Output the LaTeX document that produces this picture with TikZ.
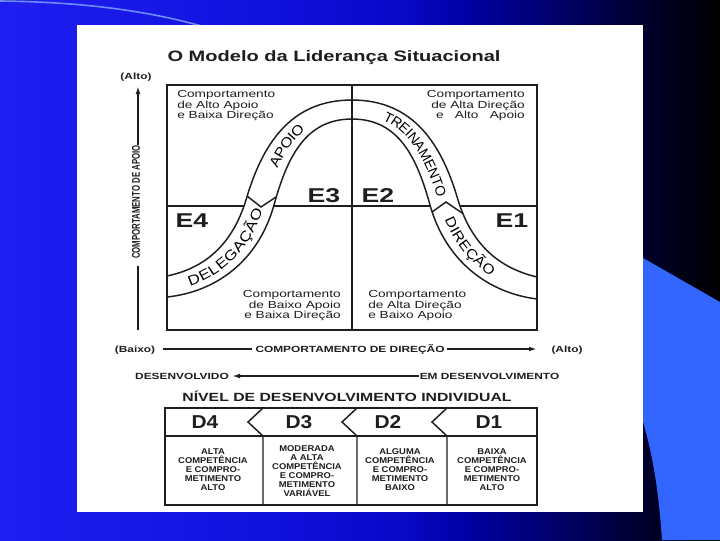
\documentclass[tikz,border=0pt]{standalone}
\usepackage{fontspec}
\setmainfont{Liberation Sans}
\newfontfamily\wideR[FakeStretch=1.33]{Liberation Sans}
\newfontfamily\midR[FakeStretch=1.12]{Liberation Sans}
\newfontfamily\bandW[FakeStretch=1.2]{Liberation Sans}
\newfontfamily\narR[FakeStretch=0.7]{Liberation Sans}
\newcommand\bandN{\normalfont\fontsize{10.5}{12}\selectfont}
\newcommand\bandM{\midR\fontsize{10.5}{12}\selectfont}
\newcommand\bandL{\bandW\fontsize{10.5}{12}\selectfont}
\usetikzlibrary{decorations.text,arrows.meta}
\pgfdeclarehorizontalshading{bgshade}{100bp}{rgb(0bp)=(0.12,0.12,0.95); rgb(25bp)=(0.12,0.12,0.95); rgb(45bp)=(0.06,0.06,0.86); rgb(53bp)=(0.03,0.03,0.78); rgb(58bp)=(0,0,0.62); rgb(64bp)=(0,0,0.40); rgb(69bp)=(0,0,0.2); rgb(75bp)=(0,0,0); rgb(100bp)=(0,0,0)}
\definecolor{ink}{RGB}{30,30,30}
\definecolor{lightb}{RGB}{51,102,255}
\definecolor{swooshc}{RGB}{110,140,255}
\begin{document}
\begin{tikzpicture}[x=0.75pt,y=-0.75pt,
 frame/.style={draw=ink,line width=1.3pt},
 rule/.style={draw=ink,line width=1.1pt},
 axisline/.style={draw=ink,line width=1.5pt},
 tipend/.style={-{Latex[length=6pt,width=3.6pt]}},
 qtext/.style={font=\wideR\fontsize{7.7}{8}\selectfont,text=ink,inner sep=0pt},
 ebig/.style={font=\wideR\bfseries\fontsize{15}{15}\selectfont,text=ink,inner sep=0pt,anchor=base},
 dbig/.style={font=\midR\bfseries\fontsize{14}{14}\selectfont,text=ink,inner sep=0pt,anchor=base},
 axlab/.style={font=\wideR\bfseries\fontsize{6.7}{8}\selectfont,text=ink,inner sep=0pt,anchor=base},
 cell/.style={font=\midR\bfseries\fontsize{6.3}{6.75}\selectfont,text=ink,inner sep=0pt,align=center},
 bandtext/.style 2 args={decorate,decoration={text along path,text align={#2},raise=-3.8pt,text={#1}}},
]
\useasboundingbox (0,0) rectangle (720,540);
% background
\shade[shading=bgshade] (0,0) rectangle (720,540);
\draw[swooshc,line width=1.2pt] (0,1) .. controls (80,2) and (150,10) .. (215,30);
\fill[lightb] (630,250.6) -- (720,302) -- (720,540) -- (662,540) .. controls (658,480) and (650,440) .. (636,400) -- cycle;
\fill[white] (77,25) rectangle (643,512);

% title
\node[font=\wideR\bfseries\fontsize{11.3}{13}\selectfont,text=ink,inner sep=0pt,anchor=base] (title) at (334,61) {O Modelo da Liderança Situacional};

% vertical axis
\node[axlab] (altoV) at (136,79) {(Alto)};
\coordinate (vtip) at (138,86);
\coordinate (vtop) at (138,145);
\coordinate (vlowA) at (138,266);
\coordinate (vlowB) at (138,330);
\draw[axisline,tipend] (vtop) -- (vtip);
\draw[axisline] (vlowA) -- (vlowB);
\node[font=\narR\bfseries\fontsize{8.4}{9}\selectfont,text=ink,inner sep=0pt,rotate=90] (vlab) at (136,202) {COMPORTAMENTO DE APOIO};

% main grid
\coordinate (mL) at (167,206);
\coordinate (mR) at (537,206);
\coordinate (mT) at (352,85);
\coordinate (mB) at (352,330);
\draw[rule] (mL) -- (mR);
\fill[white] (167,276) .. controls (205,268) and (232,245) .. (246,200)
  .. controls (262,145) and (290,100) .. (352,100)
  .. controls (414,100) and (442,145) .. (458,200)
  .. controls (472,245) and (499,268) .. (537,277) -- (537,299)
  .. controls (489,293) and (446,262) .. (430,205)
  .. controls (417,158) and (399,119) .. (352,119)
  .. controls (305,119) and (287,158) .. (274,205)
  .. controls (258,262) and (215,292) .. (167,297) -- cycle;
\draw[rule] (mT) -- (mB);
\draw[rule] (167,276) .. controls (205,268) and (232,245) .. (246,200)
  .. controls (262,145) and (290,100) .. (352,100)
  .. controls (414,100) and (442,145) .. (458,200)
  .. controls (472,245) and (499,268) .. (537,277);
\draw[rule] (167,297) .. controls (215,292) and (258,262) .. (274,205)
  .. controls (287,158) and (305,119) .. (352,119)
  .. controls (399,119) and (417,158) .. (430,205)
  .. controls (446,262) and (489,293) .. (537,299);
% notches
\draw[rule] (247,196) -- (261,207) -- (276,197);
\draw[rule] (432,212) -- (446,202) -- (462,213);
\draw[frame] (167,85) rectangle (537,330);

% band texts
\path[bandtext={|\bandL|DELEGAÇÃO}{right,right indent=5pt}] (167,286.5) .. controls (210,280) and (245,253.5) .. (260,202.5);
\path[bandtext={|\bandM|APOIO}{left,left indent=29pt}] (260,202.5) .. controls (274.5,151.5) and (297.5,109.5) .. (352,109.5);
\path[bandtext={|\bandN|TREINAMENTO}{right,right indent=5pt}] (352,109.5) .. controls (406.5,109.5) and (429.5,151.5) .. (444,202.5);
\path[bandtext={|\bandM|DIREÇÃO}{left,left indent=12pt}] (444,202.5) .. controls (459,253.5) and (494,280.5) .. (537,288);

% quadrant texts
\node[qtext,anchor=north west,align=left] (qTL) at (177,90) {Comportamento\\de Alto Apoio\\e Baixa Direção};
\node[qtext,anchor=north east,align=right] (qTR) at (525,90) {Comportamento\\de Alta Direção\\e\hspace{1.1em}Alto\hspace{1.1em}Apoio};
\node[qtext,anchor=north east,align=right] (qBL) at (341,290) {Comportamento\\de Baixo Apoio\\e Baixa Direção};
\node[qtext,anchor=north west,align=left] (qBR) at (368,290) {Comportamento\\de Alta Direção\\e Baixo Apoio};

% style labels
\node[ebig] (E3) at (324,202) {E3};
\node[ebig] (E2) at (378,202) {E2};
\node[ebig] (E4) at (192,227) {E4};
\node[ebig] (E1) at (512,227) {E1};

% horizontal axis
\node[axlab] (baixo) at (135,352.5) {(Baixo)};
\node[axlab] (cdir) at (350,352.5) {COMPORTAMENTO DE DIREÇÃO};
\node[axlab] (altoH) at (567,352.5) {(Alto)};
\coordinate (hA) at (163,349);
\coordinate (hB) at (252,349);
\coordinate (hC) at (447,349);
\coordinate (hD) at (537,349);
\draw[axisline] (hA) -- (hB);
\draw[axisline,tipend] (hC) -- (hD);

% development axis
\node[axlab] (desv) at (182,379.5) {DESENVOLVIDO};
\node[axlab] (emdesv) at (489.5,379.5) {EM DESENVOLVIMENTO};
\coordinate (dA) at (419,376);
\coordinate (dB) at (232,376);
\draw[axisline,tipend] (dA) -- (dB);
\node[font=\wideR\bfseries\fontsize{8.9}{10}\selectfont,text=ink,inner sep=0pt,anchor=base] (nivel) at (347,401) {NÍVEL DE DESENVOLVIMENTO INDIVIDUAL};

% table
\draw[frame] (165,408) rectangle (537,505);
\draw[rule] (165,436) -- (537,436);
\foreach \X in {263,357,447}{
  \draw[rule] (\X,408) -- (\X-15,422) -- (\X,436) -- (\X,505);
}
\node[dbig] (D4) at (205,428.5) {D4};
\node[dbig] (D3) at (299,428.5) {D3};
\node[dbig] (D2) at (388,428.5) {D2};
\node[dbig] (D1) at (489,428.5) {D1};
\node[cell] (c1) at (213,470) {ALTA\\COMPETÊNCIA\\E COMPRO-\\METIMENTO\\ALTO};
\node[cell] (c2) at (307,471) {MODERADA\\A ALTA\\COMPETÊNCIA\\E COMPRO-\\METIMENTO\\VARIÁVEL};
\node[cell] (c3) at (400,470) {ALGUMA\\COMPETÊNCIA\\E COMPRO-\\METIMENTO\\BAIXO};
\node[cell] (c4) at (492,470) {BAIXA\\COMPETÊNCIA\\E COMPRO-\\METIMENTO\\ALTO};
\end{tikzpicture}
\end{document}
